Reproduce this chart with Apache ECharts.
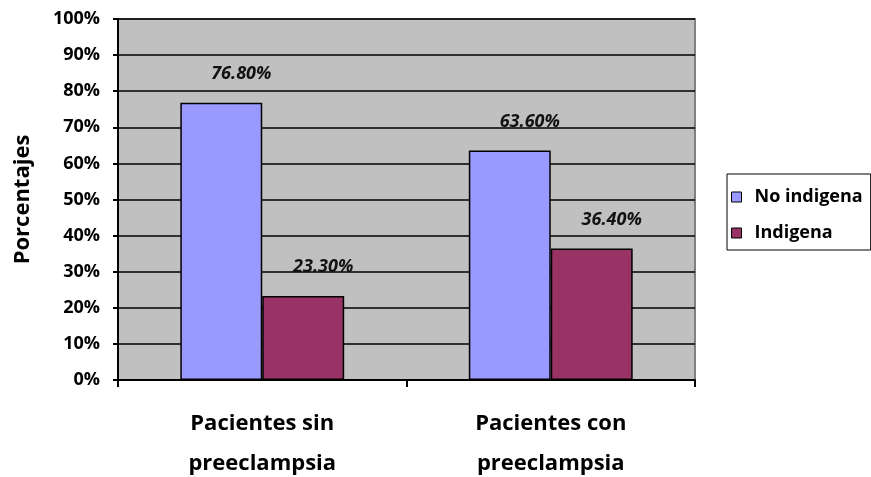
<!DOCTYPE html>
<html>
<head>
<meta charset="utf-8">
<script src="https://cdn.jsdelivr.net/npm/echarts@6/dist/echarts.min.js"></script>
<style>
  html, body { margin: 0; padding: 0; background: #ffffff; }
  #chart { width: 871px; height: 477px; }
</style>
</head>
<body>
<div id="chart"></div>
<script>
// Grupos de pacientes y porcentajes por origen étnico
var categories = ['Pacientes sin\npreeclampsia', 'Pacientes con\npreeclampsia'];
var seriesNames = ['No indigena', 'Indigena'];
var noIndigena = [76.8, 63.6];
var indigena = [23.3, 36.4];
var yAxisTitle = 'Porcentajes';

var FONT = '"Open Sans", "Noto Sans", sans-serif';

function barSeries(name, values, color) {
  return {
    name: name,
    type: 'bar',
    data: values,
    barWidth: '28.4%',
    barGap: '0%',
    itemStyle: { color: color, borderColor: '#000000', borderWidth: 1.5 },
    label: {
      show: true,
      position: 'top',
      distance: 20,
      offset: [20, 0],
      color: '#111111',
      fontFamily: FONT,
      fontSize: 18,
      fontWeight: 'bold',
      fontStyle: 'italic',
      formatter: function (p) { return p.value.toFixed(2) + '%'; }
    }
  };
}

var chart = echarts.init(document.getElementById('chart'), null, { renderer: 'canvas' });
chart.setOption({
  animation: false,
  backgroundColor: '#ffffff',
  grid: {
    left: 118, top: 19, right: 176, bottom: 97,
    outerBoundsMode: 'none',
    show: true,
    backgroundColor: '#C0C0C0',
    borderColor: '#808080',
    borderWidth: 2
  },
  legend: {
    orient: 'vertical',
    left: 727,
    top: 174,
    data: seriesNames,
    icon: 'rect',
    itemWidth: 10,
    itemHeight: 10,
    itemGap: 18,
    padding: [14, 8, 8, 4],
    borderColor: '#000000',
    borderWidth: 1,
    backgroundColor: '#ffffff',
    itemStyle: { borderColor: '#000000', borderWidth: 1 },
    textStyle: { fontFamily: FONT, fontSize: 18, fontWeight: 'bold', color: '#000000', padding: [0, 0, 0, 8] }
  },
  xAxis: {
    type: 'category',
    data: categories,
    axisLine: { lineStyle: { color: '#000000', width: 2 } },
    axisTick: { show: true, length: 7, lineStyle: { color: '#000000', width: 2 } },
    axisLabel: {
      margin: 24,
      fontFamily: FONT,
      fontSize: 22,
      fontWeight: 'bold',
      color: '#000000',
      lineHeight: 40
    }
  },
  yAxis: {
    type: 'value',
    min: 0,
    max: 100,
    interval: 10,
    name: yAxisTitle,
    nameLocation: 'middle',
    nameGap: 84,
    nameRotate: 90,
    nameTextStyle: { fontFamily: FONT, fontSize: 22, fontWeight: 'bold', color: '#000000' },
    axisLine: { show: true, lineStyle: { color: '#000000', width: 2 } },
    axisTick: { show: true, length: 5, lineStyle: { color: '#000000', width: 2 } },
    splitLine: { show: true, lineStyle: { color: '#000000', width: 1.5 } },
    axisLabel: {
      margin: 18,
      formatter: '{value}%',
      fontFamily: FONT,
      fontSize: 18,
      fontWeight: 'bold',
      color: '#000000'
    }
  },
  series: [
    barSeries(seriesNames[0], noIndigena, '#9999FF'),
    barSeries(seriesNames[1], indigena, '#993366')
  ]
});
</script>
</body>
</html>
